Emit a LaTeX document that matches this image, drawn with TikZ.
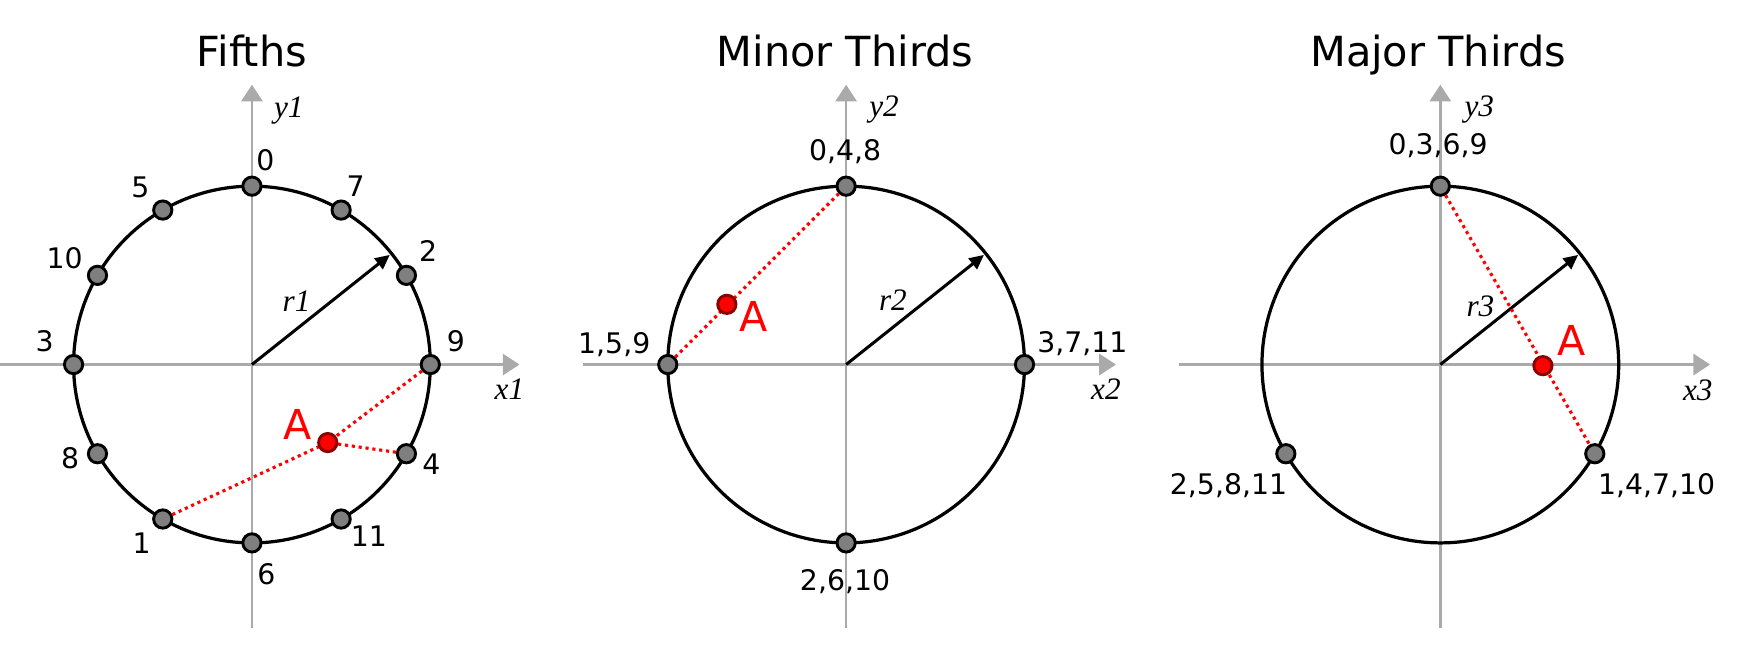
\documentclass[tikz,border=0pt]{standalone}
\usepackage{fontspec}
\setmainfont{Liberation Serif}
\setsansfont{DejaVu Sans}
\usetikzlibrary{arrows.meta}
\definecolor{axisgray}{HTML}{AAAAAA}
\definecolor{pcgray}{HTML}{7F7F7F}
\definecolor{darkred}{HTML}{8B0000}
\tikzset{
  axis/.style={draw=axisgray, line width=1.2pt, -{Triangle[length=7.5pt,width=9.5pt]}},
  ring/.style={draw=black, line width=1.45pt},
  pc/.style={circle, draw=black, fill=pcgray, line width=1.3pt, inner sep=0pt, minimum size=8.2pt},
  apt/.style={circle, draw=darkred, fill=red, line width=1.3pt, inner sep=0pt, minimum size=8.2pt},
  link/.style={draw=red, line width=1.4pt, dash pattern=on 1.4pt off 1.7pt},
  radarrow/.style={draw=black, line width=1.35pt, -{Triangle[length=6.5pt,width=6pt]}},
  num/.style={font=\sffamily\fontsize{12.7}{14}\selectfont, inner sep=0pt},
  ttl/.style={font=\sffamily\fontsize{18.6}{20}\selectfont, inner sep=0pt, anchor=base},
  albl/.style={text=red, font=\sffamily\fontsize{18.5}{20}\selectfont, inner sep=0pt},
  var/.style={font=\itshape\fontsize{14}{16}\selectfont, inner sep=0pt}
}
\begin{document}
\begin{tikzpicture}[x=0.5pt,y=-0.5pt]
\useasboundingbox (0,0) rectangle (1568,583);
% ================= Panel 1: Fifths =================
\coordinate (c1) at (226,327);
\node[ttl] (t1) at (226,59.5) {Fifths};
\coordinate (x1a) at (0,327); \coordinate (x1b) at (466,327);
\coordinate (y1a) at (226,563); \coordinate (y1b) at (226,76);
\draw[axis] (x1a) -- (x1b);
\draw[axis] (y1a) -- (y1b);
\node[var] (lx1) at (457,349) {x1};
\node[var] (ly1) at (259,99) {y1};
\draw[ring] (c1) circle[radius=160];
\coordinate (r1tip) at ([shift={(-38.5:158)}]c1);
\draw[radarrow] (c1) -- (r1tip);
\node[var] (lr1) at (266,270) {r1};
\node[pc] (p0)  at ([shift={(-90:160)}]c1) {};
\node[pc] (p7)  at ([shift={(-60:160)}]c1) {};
\node[pc] (p2)  at ([shift={(-30:160)}]c1) {};
\node[pc] (p9)  at ([shift={(0:160)}]c1) {};
\node[pc] (p4)  at ([shift={(30:160)}]c1) {};
\node[pc] (p11) at ([shift={(60:160)}]c1) {};
\node[pc] (p6)  at ([shift={(90:160)}]c1) {};
\node[pc] (p1)  at ([shift={(120:160)}]c1) {};
\node[pc] (p8)  at ([shift={(150:160)}]c1) {};
\node[pc] (p3)  at ([shift={(180:160)}]c1) {};
\node[pc] (p10) at ([shift={(210:160)}]c1) {};
\node[pc] (p5)  at ([shift={(240:160)}]c1) {};
\coordinate (a1) at (294,397);
\draw[link] (p9) -- (a1);
\draw[link] (p4) -- (a1);
\draw[link] (p1) -- (a1);
\node[apt] (A1) at (a1) {};
\node[albl] (lA1) at (267,381) {A};
\node[num] (n0)  at (238,144) {0};
\node[num] (n7)  at (319,167) {7};
\node[num] (n2)  at (384,225) {2};
\node[num] (n9)  at (409,306) {9};
\node[num] (n4)  at (387,416) {4};
\node[num] (n11) at (331,481) {11};
\node[num] (n6)  at (239,515) {6};
\node[num] (n1)  at (127,487) {1};
\node[num] (n8)  at (63,411) {8};
\node[num] (n3)  at (40,306) {3};
\node[num] (n10) at (58,232) {10};
\node[num] (n5)  at (126,168) {5};
% ================= Panel 2: Minor Thirds =================
\coordinate (c2) at (759,327);
\node[ttl] (t2) at (758,59.5) {Minor Thirds};
\coordinate (x2a) at (523,327); \coordinate (x2b) at (1001,327);
\coordinate (y2a) at (759,563); \coordinate (y2b) at (759,76);
\draw[axis] (x2a) -- (x2b);
\draw[axis] (y2a) -- (y2b);
\node[var] (lx2) at (992,349) {x2};
\node[var] (ly2) at (793,98) {y2};
\draw[ring] (c2) circle[radius=160];
\coordinate (r2tip) at ([shift={(-38.5:158)}]c2);
\draw[radarrow] (c2) -- (r2tip);
\node[var] (lr2) at (801,269) {r2};
\node[pc] (q048)  at ([shift={(-90:160)}]c2) {};
\node[pc] (q3711) at ([shift={(0:160)}]c2) {};
\node[pc] (q2610) at ([shift={(90:160)}]c2) {};
\node[pc] (q159)  at ([shift={(180:160)}]c2) {};
\draw[link] (q159) -- (q048);
\node[apt] (A2) at (652,273) {};
\node[albl] (lA2) at (676,284) {A};
\node[num] (m048)  at (758,136) {0,4,8};
\node[num] (m159)  at (551,309) {1,5,9};
\node[num] (m3711) at (971,308) {3,7,11};
\node[num] (m2610) at (758,522) {2,6,10};
% ================= Panel 3: Major Thirds =================
\coordinate (c3) at (1292,327);
\node[ttl] (t3) at (1290,59.5) {Major Thirds};
\coordinate (x3a) at (1058,327); \coordinate (x3b) at (1534,327);
\coordinate (y3a) at (1292,563); \coordinate (y3b) at (1292,76);
\draw[axis] (x3a) -- (x3b);
\draw[axis] (y3a) -- (y3b);
\node[var] (lx3) at (1523,350) {x3};
\node[var] (ly3) at (1327,98) {y3};
\draw[ring] (c3) circle[radius=160];
\coordinate (r3tip) at ([shift={(-38.5:158)}]c3);
\draw[radarrow] (c3) -- (r3tip);
\node[var] (lr3) at (1328,275) {r3};
\node[pc] (s0369)  at ([shift={(-90:160)}]c3) {};
\node[pc] (s14710) at ([shift={(30:160)}]c3) {};
\node[pc] (s25811) at ([shift={(150:160)}]c3) {};
\draw[link] (s0369) -- (s14710);
\node[apt] (A3) at (1384,328) {};
\node[albl] (lA3) at (1410,305) {A};
\node[num] (k0369)  at (1290,131) {0,3,6,9};
\node[num] (k14710) at (1486,436) {1,4,7,10};
\node[num] (k25811) at (1102,436) {2,5,8,11};
\end{tikzpicture}
\end{document}
